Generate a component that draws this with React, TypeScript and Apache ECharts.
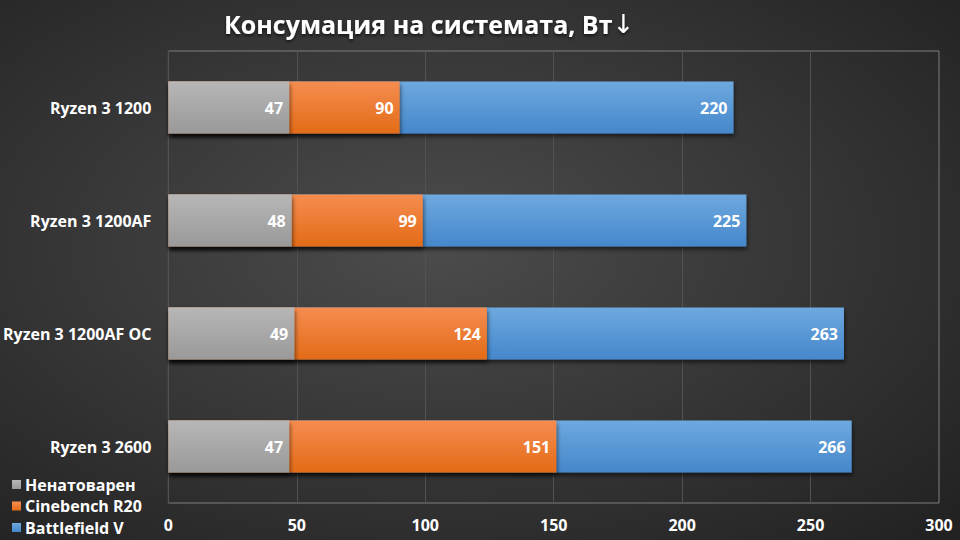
import React, { useEffect, useRef } from "react";
import * as echarts from "echarts";

const categories = ["Ryzen 3 1200", "Ryzen 3 1200AF", "Ryzen 3 1200AF OC", "Ryzen 3 2600"];
const idleValues = [47, 48, 49, 47];
const cinebenchValues = [90, 99, 124, 151];
const battlefieldValues = [220, 225, 263, 266];
const xTicks = [0, 300, 50];

const FONT = "'Open Sans', 'Noto Sans', sans-serif";

function grad(top: string, bottom: string) {
  return new echarts.graphic.LinearGradient(0, 0, 0, 1, [
    { offset: 0, color: top },
    { offset: 1, color: bottom },
  ]);
}

export default function App() {
  const ref = useRef<HTMLDivElement>(null);
  useEffect(() => {
    document.body.style.margin = "0";
    if (!ref.current) return;
    const chart = echarts.init(ref.current, null, { renderer: "svg" });
    const label = {
      show: true,
      position: "insideRight",
      distance: 6,
      color: "#ffffff",
      fontFamily: FONT,
      fontWeight: "bold",
      fontSize: 16,
    };
    const shadow = {
      shadowBlur: 4,
      shadowOffsetY: 3,
      shadowOffsetX: 1,
      shadowColor: "rgba(0,0,0,0.55)",
    };
    chart.setOption({
      animation: false,
      backgroundColor: new echarts.graphic.RadialGradient(0.45, 0.45, 0.75, [
        { offset: 0, color: "#4c4c4c" },
        { offset: 1, color: "#222222" },
      ]),
      graphic: [
        {
          type: "text",
          x: 224,
          y: 24,
          style: {
            text: "{a|Консумация на системата, Вт}{b|↓}",
            fill: "#ffffff",
            textAlign: "left",
            textVerticalAlign: "middle",
            rich: {
              a: {
                fontFamily: FONT,
                fontWeight: "bold",
                fontSize: 25,
                fill: "#ffffff",
                textShadowBlur: 3,
                textShadowOffsetY: 2,
                textShadowColor: "rgba(0,0,0,0.6)",
              },
              b: {
                fontFamily: "'DejaVu Sans', sans-serif",
                fontWeight: "normal",
                fontSize: 26,
                fill: "#ffffff",
                textShadowBlur: 3,
                textShadowOffsetY: 2,
                textShadowColor: "rgba(0,0,0,0.6)",
              },
            },
          },
        },
      ],
      legend: {
        orient: "vertical",
        left: 12,
        top: 475,
        padding: 0,
        itemWidth: 9,
        itemHeight: 9,
        itemGap: 2.5,
        icon: "rect",
        data: ["Ненатоварен", "Cinebench R20", "Battlefield V"],
        textStyle: {
          color: "#ffffff",
          fontFamily: FONT,
          fontWeight: "bold",
          fontSize: 16,
          lineHeight: 19,
          padding: [0, 0, 0, -1],
        },
      },
      grid: {
        left: 168,
        top: 51,
        width: 771,
        height: 452,
        show: true,
        borderColor: "#7f7f7f",
        borderWidth: 1,
        backgroundColor: "transparent",
      },
      xAxis: {
        type: "value",
        min: xTicks[0],
        max: xTicks[1],
        interval: xTicks[2],
        axisLine: { show: false },
        axisTick: { show: false },
        splitLine: { lineStyle: { color: "#525252", width: 1 } },
        axisLabel: { color: "#ffffff", fontFamily: FONT, fontWeight: "bold", fontSize: 16, margin: 14 },
      },
      yAxis: {
        type: "category",
        data: categories,
        inverse: true,
        axisLine: { show: false },
        axisTick: { show: false },
        axisLabel: { color: "#ffffff", fontFamily: FONT, fontWeight: "bold", fontSize: 16, margin: 17 },
      },
      series: [
        {
          name: "Battlefield V",
          type: "bar",
          data: battlefieldValues,
          barWidth: 52,
          barGap: "-100%",
          itemStyle: { color: grad("#6ea9df", "#4587cb"), ...shadow },
          label,
        },
        {
          name: "Cinebench R20",
          type: "bar",
          data: cinebenchValues,
          barWidth: 52,
          barGap: "-100%",
          itemStyle: { color: grad("#f58d50", "#e36b17"), ...shadow },
          label,
        },
        {
          name: "Ненатоварен",
          type: "bar",
          data: idleValues,
          barWidth: 52,
          barGap: "-100%",
          itemStyle: { color: grad("#b7b7b7", "#999999"), ...shadow },
          label,
        },
      ],
    });
    return () => chart.dispose();
  }, []);
  return <div ref={ref} style={{ width: 960, height: 540 }} />;
}
